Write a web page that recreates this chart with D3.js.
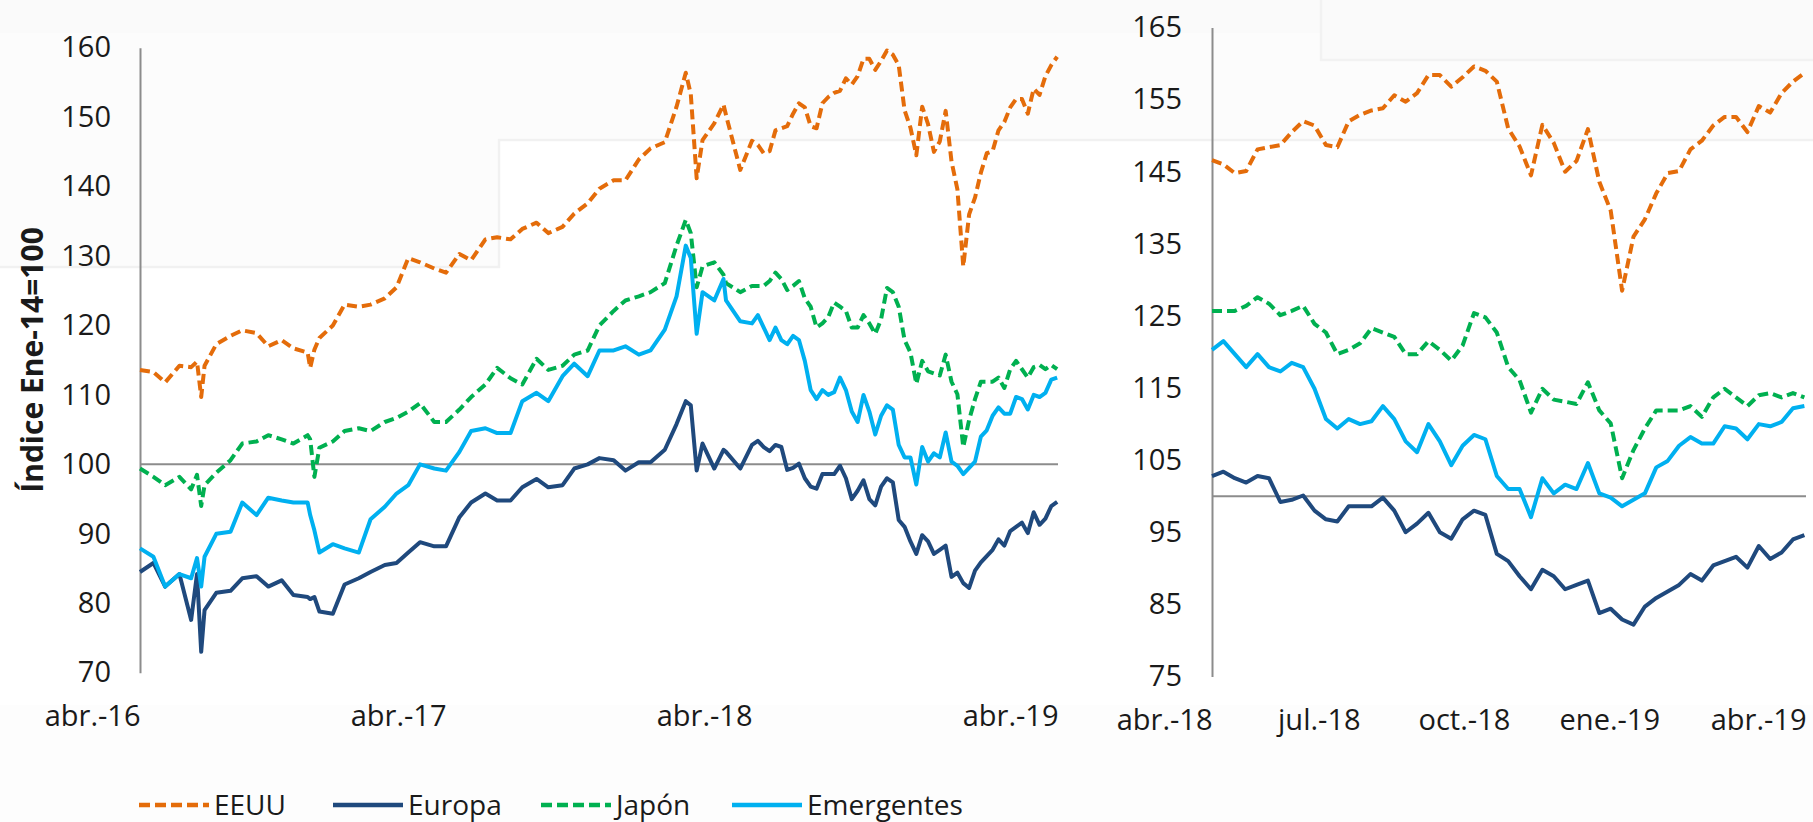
<!DOCTYPE html>
<html>
<head>
<meta charset="utf-8">
<script src="https://cdn.jsdelivr.net/npm/d3@7"></script>
<style>
  html, body { margin: 0; padding: 0; background: #fff; }
  svg { display: block; font-family: "Open Sans", "Noto Sans", sans-serif; }
</style>
</head>
<body>
<svg id="chart" width="1813" height="822"></svg>
<script>
// fechas: quincenal hasta mar-18 (con algunos días de eventos), semanal desde abr-18
const dates = [
  '2016-04-15','2016-05-01','2016-05-15','2016-06-01','2016-06-15','2016-06-22','2016-06-27','2016-07-01','2016-07-15','2016-08-01','2016-08-15',
  '2016-09-01','2016-09-15','2016-10-01','2016-10-15','2016-11-01','2016-11-04','2016-11-09','2016-11-15','2016-12-01','2016-12-15',
  '2017-01-01','2017-01-15','2017-02-01','2017-02-15','2017-03-01','2017-03-15','2017-04-01','2017-04-15','2017-05-01','2017-05-15','2017-06-01','2017-06-15',
  '2017-07-01','2017-07-15','2017-08-01','2017-08-15','2017-09-01','2017-09-15','2017-10-01','2017-10-15','2017-11-01','2017-11-15','2017-12-01','2017-12-15',
  '2018-01-01','2018-01-15','2018-01-26','2018-02-01','2018-02-08','2018-02-15','2018-03-01','2018-03-12','2018-03-15','2018-04-01',
  '2018-04-15','2018-04-22','2018-04-29','2018-05-06','2018-05-13','2018-05-20','2018-05-27','2018-06-03','2018-06-10','2018-06-17',
  '2018-06-24','2018-07-01','2018-07-08','2018-07-15','2018-07-22','2018-07-29','2018-08-05','2018-08-12','2018-08-19','2018-08-26',
  '2018-09-02','2018-09-09','2018-09-16','2018-09-23','2018-09-30','2018-10-07','2018-10-14','2018-10-21','2018-10-28','2018-11-04',
  '2018-11-11','2018-11-18','2018-11-25','2018-12-02','2018-12-09','2018-12-16','2018-12-23','2018-12-30','2019-01-06','2019-01-13',
  '2019-01-20','2019-01-27','2019-02-03','2019-02-10','2019-02-17','2019-02-24','2019-03-03','2019-03-10','2019-03-17','2019-03-24',
  '2019-03-31','2019-04-07','2019-04-14'
];

const eeuu = [
  113.6,113.3,111.8,114.2,114.0,114.8,109.7,114.2,117.3,118.5,119.3,118.9,117.0,117.9,116.7,116.1,113.9,116.5,118.2,120.0,123.0,
  122.7,123.0,123.9,125.5,129.7,129.1,128.2,127.6,130.3,129.4,132.4,132.7,132.4,133.9,134.8,133.3,134.2,136.1,137.6,139.7,140.9,140.9,143.9,145.5,
  146.4,151.5,156.4,153.3,141.2,146.7,149.1,151.8,150.3,142.4,
  146.6,146.0,144.8,145.1,148.1,148.4,148.7,150.5,152.0,151.4,148.7,148.4,152.0,152.9,153.5,153.8,155.6,154.7,155.9,158.4,
  158.4,156.8,158.1,159.6,159.0,157.5,151.0,148.5,144.5,151.5,149.0,145.0,146.5,150.9,143.6,139.6,128.5,136.0,138.4,142.0,
  144.8,145.1,148.1,149.3,151.4,152.6,152.6,150.5,154.1,153.2,155.9,157.5,158.7
];

const europa = [
  84.5,85.8,82.4,84.2,77.6,84.2,73.0,79.0,81.5,81.8,83.6,83.9,82.4,83.3,81.2,80.9,80.6,80.9,78.8,78.5,82.7,
  83.6,84.5,85.5,85.8,87.3,88.8,88.2,88.2,92.4,94.5,95.8,94.8,94.8,96.7,97.9,96.7,97.0,99.4,100.0,100.9,100.6,99.1,100.3,100.3,
  102.1,105.8,109.1,108.5,99.1,103.0,99.4,102.1,101.8,99.4,
  102.8,103.4,102.5,101.9,102.8,102.5,99.2,99.5,100.1,98.0,96.8,96.5,98.6,98.6,98.6,99.8,98.0,95.0,96.2,97.7,
  95.0,94.1,96.8,98.0,97.4,92.0,91.0,88.9,87.1,89.8,88.9,87.1,87.7,88.3,83.8,84.4,82.9,82.2,84.7,85.9,
  86.8,87.7,89.2,88.3,90.4,91.0,91.6,90.1,93.1,91.3,92.2,94.0,94.6
];

const japon = [
  99.4,98.2,97.0,98.2,96.4,98.5,94.0,97.0,98.8,100.6,103.0,103.3,104.2,103.6,103.0,104.2,103.6,98.2,102.4,103.3,104.8,
  105.2,104.8,106.1,106.7,107.6,108.8,106.1,106.1,107.9,109.7,111.5,113.9,112.4,111.5,115.2,113.6,114.2,115.8,116.4,120.0,122.1,123.6,124.2,124.8,
  126.1,131.5,135.2,133.3,125.5,128.5,129.1,127.3,126.1,124.8,
  125.7,125.7,125.7,126.4,127.6,126.7,125.1,125.7,126.4,123.9,122.7,119.7,120.3,121.2,123.3,122.7,122.1,119.7,119.7,121.5,
  120.3,118.8,120.9,125.4,124.8,122.7,117.9,116.1,111.6,114.9,113.4,113.1,112.8,115.8,111.9,110.1,102.5,106.4,109.4,111.9,
  111.9,111.9,112.5,111.0,113.7,114.9,113.7,112.5,114.0,114.3,113.7,114.3,113.7
];

const emergentes = [
  87.9,86.7,82.4,84.2,83.6,86.5,82.4,86.7,90.0,90.3,94.5,92.7,95.2,94.8,94.5,94.5,92.7,90.5,87.3,88.5,87.9,
  87.3,92.1,93.9,95.8,97.0,100.0,99.4,99.1,101.8,104.8,105.2,104.5,104.5,109.1,110.3,109.1,112.7,114.5,112.7,116.4,116.4,117.0,115.8,116.4,
  119.4,124.2,131.5,129.7,118.8,124.8,123.6,126.7,123.6,120.6,
  120.3,121.5,119.7,117.9,119.7,117.9,117.3,118.5,117.9,114.9,110.7,109.4,110.7,110.0,110.4,112.5,110.7,107.6,106.1,110.0,
  107.6,104.3,107.0,108.5,107.9,102.8,101.0,101.0,97.1,102.5,100.4,101.6,101.0,104.6,100.4,99.8,98.6,99.5,100.4,104.0,
  104.9,107.0,108.2,107.3,107.3,109.7,109.4,107.9,110.0,109.7,110.3,112.2,112.5
];

const seriesNames = ['EEUU', 'Europa', 'Japón', 'Emergentes'];
const seriesValues = [eeuu, europa, japon, emergentes];
const seriesColors = ['#E46C0A', '#1F497D', '#00B050', '#00B0F0'];
const seriesDashed = [true, false, true, false];

const leftTicksY = [70, 80, 90, 100, 110, 120, 130, 140, 150, 160];
const rightTicksY = [75, 85, 95, 105, 115, 125, 135, 145, 155, 165];
const leftTicksX = ['2016-04-15', '2017-04-15', '2018-04-15', '2019-04-15'];
const rightTicksX = ['2018-04-15', '2018-07-15', '2018-10-15', '2019-01-15', '2019-04-15'];
const meses = ['ene.', 'feb.', 'mar.', 'abr.', 'may.', 'jun.', 'jul.', 'ago.', 'sep.', 'oct.', 'nov.', 'dic.'];

const parse = d3.utcParse('%Y-%m-%d');
const fmtMes = d => meses[d.getUTCMonth()] + '-' + d3.utcFormat('%y')(d);

const rows = dates.map((d, i) => ({ date: parse(d), v: seriesValues.map(s => s[i]) }));

const svg = d3.select('#chart');
const axisColor = '#8c8c8c';
const textColor = '#1a1a1a';

// fondo tenue de la captura original
const bg = svg.append('g');
bg.append('path')
  .attr('d', 'M0,0H1813V140H499V267H0Z')
  .attr('fill', '#fcfcfc');
bg.append('rect').attr('x', 0).attr('y', 0).attr('width', 1813).attr('height', 33).attr('fill', '#fafafa');
bg.append('rect').attr('x', 1321).attr('y', 0).attr('width', 492).attr('height', 60).attr('fill', '#fafafa');
bg.append('path')
  .attr('d', 'M1813,140H499V267H0')
  .attr('fill', 'none').attr('stroke', '#f1f1f1').attr('stroke-width', 2.5);
bg.append('path')
  .attr('d', 'M1321,0V60H1813')
  .attr('fill', 'none').attr('stroke', '#f2f2f2').attr('stroke-width', 2.5);
bg.append('rect').attr('x', 0).attr('y', 705).attr('width', 1813).attr('height', 117).attr('fill', '#fdfdfd');

function panel(opts) {
  const { x0, x1, yTop, yBot, domainY, ticksY, ticksX, start, labelX, labelBase } = opts;
  const g = svg.append('g');
  const data = rows.filter(r => r.date >= parse(start));

  const x = d3.scaleUtc()
    .domain([parse(ticksX[0]), parse(ticksX[ticksX.length - 1])])
    .range([x0, x1]);
  const y = d3.scaleLinear().domain(domainY).range([yBot, yTop]);

  // línea de referencia en 100
  g.append('line')
    .attr('x1', x0).attr('x2', x1)
    .attr('y1', y(100)).attr('y2', y(100))
    .attr('stroke', axisColor).attr('stroke-width', 2);

  const yAxis = g.append('g')
    .attr('transform', `translate(${x0},0)`)
    .call(d3.axisLeft(y).tickValues(ticksY).tickSize(0).tickSizeOuter(0).tickPadding(labelX));
  yAxis.select('.domain').attr('stroke', axisColor).attr('stroke-width', 2);
  yAxis.selectAll('text')
    .attr('font-size', 29).attr('fill', textColor)
    .attr('font-family', '"Open Sans", sans-serif');

  const xAxis = g.append('g')
    .attr('transform', `translate(0,${labelBase})`)
    .call(d3.axisBottom(x).tickValues(ticksX.map(parse)).tickFormat(fmtMes).tickSize(0));
  xAxis.select('.domain').remove();
  xAxis.selectAll('text')
    .attr('y', 0).attr('dy', 0)
    .attr('text-anchor', 'end')
    .attr('font-size', 29).attr('fill', textColor)
    .attr('font-family', '"Open Sans", sans-serif');

  seriesValues.forEach((s, k) => {
    const line = d3.line()
      .x(r => x(r.date))
      .y(r => y(r.v[k]));
    g.append('path')
      .datum(data)
      .attr('d', line)
      .attr('fill', 'none')
      .attr('stroke', seriesColors[k])
      .attr('stroke-width', 4)
      .attr('stroke-linejoin', 'round')
      .attr('stroke-dasharray', seriesDashed[k] ? '10,5' : null);
  });
}

// izquierda: abr.-16 a abr.-19
panel({
  x0: 140, x1: 1058, yTop: 47.7, yBot: 672.7,
  domainY: [70, 160], ticksY: leftTicksY, ticksX: leftTicksX,
  start: '2016-04-15', labelX: 29, labelBase: 726
});

// derecha: último año
panel({
  x0: 1212, x1: 1806, yTop: 27.5, yBot: 676.5,
  domainY: [75, 165], ticksY: rightTicksY, ticksX: rightTicksX,
  start: '2018-04-15', labelX: 30, labelBase: 730
});

// título del eje
svg.append('text')
  .attr('transform', 'translate(31,360) rotate(-90)')
  .attr('text-anchor', 'middle')
  .attr('dominant-baseline', 'central')
  .attr('font-size', 30)
  .attr('font-weight', 700)
  .attr('fill', textColor)
  .text('Índice Ene-14=100');

// leyenda
const legendX = [139, 333, 541, 732];
const legend = svg.append('g').attr('transform', 'translate(0,805)');
seriesNames.forEach((name, k) => {
  const lg = legend.append('g').attr('transform', `translate(${legendX[k]},0)`);
  lg.append('line')
    .attr('x1', 0).attr('x2', 70)
    .attr('stroke', seriesColors[k])
    .attr('stroke-width', 4.5)
    .attr('stroke-dasharray', seriesDashed[k] ? '11,5' : null);
  lg.append('text')
    .attr('x', 75).attr('y', 0)
    .attr('dy', '0.35em')
    .attr('font-size', 28)
    .attr('fill', textColor)
    .text(name);
});
</script>
</body>
</html>
